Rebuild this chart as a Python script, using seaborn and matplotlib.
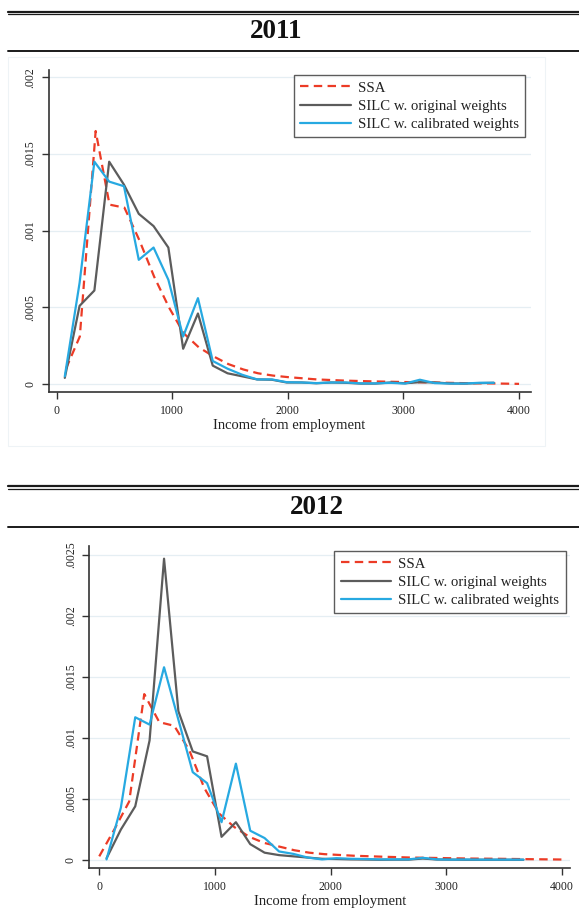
import matplotlib
matplotlib.use("Agg")
import matplotlib.pyplot as plt
from matplotlib.lines import Line2D
from matplotlib.patches import Rectangle
import seaborn as sns
import pandas as pd

# ---------------- data ----------------
series_names = ["SSA", "SILC w. original weights", "SILC w. calibrated weights"]

# 2011
x11_silc = [70, 198, 326, 454, 582, 710, 838, 966, 1094, 1222, 1350, 1478, 1606, 1734,
            1862, 1990, 2118, 2246, 2374, 2502, 2630, 2758, 2886, 3014, 3142, 3270,
            3398, 3526, 3654, 3782]
orig11 = [0.00004, 0.00051, 0.00061, 0.00145, 0.00130, 0.00111, 0.00103, 0.00089,
          0.00023, 0.00046, 0.00012, 0.00007, 0.00005, 0.00003, 0.000028, 0.00001,
          0.00001, 0.000005, 0.00001, 0.000008, 0.000003, 0.000003, 0.00001, 0.000005,
          0.000012, 0.00001, 0.000004, 0.000003, 0.000006, 0.000008]
calib11 = [0.00005, 0.00066, 0.00145, 0.00132, 0.00129, 0.00081, 0.00089, 0.00068,
           0.00031, 0.00056, 0.00015, 0.00010, 0.00006, 0.00003, 0.00003, 0.000012,
           0.00001, 0.000006, 0.00001, 0.00001, 0.000004, 0.000004, 0.000008, 0.000003,
           0.000028, 0.000006, 0.000003, 0.000003, 0.000008, 0.000008]
x11_ssa = [80, 200, 337, 457, 586, 714, 843, 971, 1100, 1228, 1357, 1485, 1614, 1742,
           1871, 2000, 2250, 2500, 2750, 3000, 3250, 3500, 3750, 4000]
ssa11 = [0.00010, 0.00031, 0.00165, 0.00117, 0.00115, 0.00094, 0.00070, 0.00050,
         0.00033, 0.00024, 0.00018, 0.00013, 0.000095, 0.00007, 0.000055, 0.000045,
         0.00003, 0.000022, 0.000017, 0.000013, 0.00001, 0.000006, 0.000004, 0.000001]

# 2012
x12_silc = [63, 187, 311, 435, 560, 684, 808, 932, 1057, 1181, 1305, 1429, 1554, 1678,
            1802, 1926, 2051, 2175, 2299, 2423, 2548, 2672, 2796, 2920, 3045, 3169,
            3293, 3417, 3542, 3666]
orig12 = [0.000014, 0.00025, 0.00044, 0.00098, 0.00247, 0.00122, 0.00089, 0.00085,
          0.00019, 0.00031, 0.00013, 0.00006, 0.00004, 0.00003, 0.00002, 0.00001,
          0.000008, 0.000005, 0.000004, 0.000002, 0.000003, 0.000003, 0.000012,
          0.000004, 0.000003, 0.000002, 0.000002, 0.000002, 0.000002, 0.000002]
calib12 = [0.000005, 0.00043, 0.00117, 0.00111, 0.00158, 0.00115, 0.00072, 0.00063,
           0.00031, 0.00079, 0.00024, 0.00018, 0.00007, 0.00005, 0.00002, 0.000005,
           0.000015, 0.00001, 0.000008, 0.000005, 0.000005, 0.000005, 0.000018,
           0.000005, 0.000003, 0.000004, 0.000003, 0.000003, 0.000003, 0.000003]
x12_ssa = [0, 130, 259, 389, 519, 648, 778, 908, 1037, 1167, 1297, 1426, 1556, 1686,
           1815, 1945, 2200, 2450, 2700, 2950, 3200, 3450, 3700, 4000]
ssa12 = [0.00003, 0.00025, 0.00048, 0.00136, 0.00113, 0.00110, 0.00090, 0.00059,
         0.00038, 0.00027, 0.00019, 0.00014, 0.00011, 0.00008, 0.00006, 0.000048,
         0.000035, 0.000027, 0.00002, 0.000016, 0.000012, 0.00001, 0.000007, 0.000004]

x_ticks = [0, 1000, 2000, 3000, 4000]
y_ticks11 = [0, 0.0005, 0.001, 0.0015, 0.002]
y_ticks12 = [0, 0.0005, 0.001, 0.0015, 0.002, 0.0025]
y_labels11 = ["0", ".0005", ".001", ".0015", ".002"]
y_labels12 = ["0", ".0005", ".001", ".0015", ".002", ".0025"]

# ---------------- style ----------------
sns.set_theme(style="white")
plt.rcParams["font.family"] = ["Liberation Serif", "DejaVu Serif"]

RED = "#ec3b26"
GREY = "#5c5c5c"
BLUE = "#27a9e1"
palette = {series_names[0]: RED, series_names[1]: GREY, series_names[2]: BLUE}
dash_map = {series_names[0]: (3.8, 2.4), series_names[1]: "", series_names[2]: ""}

W, H = 579, 919
fig = plt.figure(figsize=(W / 100, H / 100), dpi=100)


def fx(px):
    return px / W


def fy(py):
    return 1 - py / H


def long_frame(xs_ssa, ssa, xs_silc, orig, calib):
    parts = [
        pd.DataFrame({"income": xs_ssa, "density": ssa, "series": series_names[0]}),
        pd.DataFrame({"income": xs_silc, "density": orig, "series": series_names[1]}),
        pd.DataFrame({"income": xs_silc, "density": calib, "series": series_names[2]}),
    ]
    return pd.concat(parts, ignore_index=True)


def header(title, y_top, y_bottom, cx, cy, x0=8):
    fig.add_artist(Line2D([fx(x0), 1], [fy(y_top), fy(y_top)], color="#1a1a1a", lw=1.6))
    fig.add_artist(Line2D([fx(x0), 1], [fy(y_top + 2.8), fy(y_top + 2.8)], color="#1a1a1a", lw=0.9))
    fig.add_artist(Line2D([fx(x0), 1], [fy(y_bottom), fy(y_bottom)], color="#1a1a1a", lw=1.4))
    fig.text(fx(cx), fy(cy), title, ha="center", va="center", fontsize=19.5,
             fontweight="bold", color="#111111")


def panel(rect_px, df, xlim, ylim, yticks, ylabels, legend_anchor):
    l, t, r, b = rect_px
    ax = fig.add_axes([fx(l), fy(b), (r - l) / W, (b - t) / H])
    ax.set_facecolor("none")
    for yv in yticks:
        ax.axhline(yv, color="#e5eef3", lw=0.9, zorder=0)
    sns.lineplot(data=df, x="income", y="density", hue="series", style="series",
                 palette=palette, dashes=dash_map, estimator=None, sort=False,
                 linewidth=1.6, ax=ax, legend=False)
    ax.set_xlim(*xlim)
    ax.set_ylim(*ylim)
    ax.set_xticks(x_ticks)
    ax.set_xticklabels([str(v) for v in x_ticks])
    ax.set_yticks(yticks)
    ax.set_yticklabels(ylabels, rotation=90, va="center")
    ax.tick_params(axis="both", direction="out", length=5, width=1.0, color="#333333",
                   labelsize=8.5, labelcolor="#222222")
    ax.tick_params(axis="x", bottom=True, pad=4.5)
    ax.tick_params(axis="y", left=True, pad=4)
    for side in ["top", "right"]:
        ax.spines[side].set_visible(False)
    for side in ["left", "bottom"]:
        ax.spines[side].set_color("#333333")
        ax.spines[side].set_linewidth(1.2)
    ax.set_xlabel("Income from employment", fontsize=10.5, color="#222222", labelpad=0.5)
    ax.set_ylabel("")
    handles = [
        Line2D([], [], color=RED, lw=1.6, linestyle=(0, (3.8, 2.4))),
        Line2D([], [], color=GREY, lw=1.6),
        Line2D([], [], color=BLUE, lw=1.6),
    ]
    leg = ax.legend(handles, series_names, loc="upper right", bbox_to_anchor=legend_anchor,
                    borderaxespad=0, fontsize=10.6, frameon=True, fancybox=False,
                    handlelength=3.4, handletextpad=0.5, labelspacing=0.32,
                    borderpad=0.45)
    leg.get_frame().set_edgecolor("#333333")
    leg.get_frame().set_linewidth(1.0)
    for txt in leg.get_texts():
        txt.set_color("#222222")
    return ax


# faint panel box behind the 2011 chart
fig.add_artist(Rectangle((fx(8), fy(446)), fx(545) - fx(8), fy(57) - fy(446),
                         facecolor="white", edgecolor="#eef3f6", lw=0.8, zorder=-1))

# 2011 panel
header("2011", 11.5, 51, 276, 31)
df11 = long_frame(x11_ssa, ssa11, x11_silc, orig11, calib11)
panel((48.5, 70, 530.6, 392.3), df11, (-71, 4100), (-0.000054, 0.002048),
      y_ticks11, y_labels11, (0.9894, 0.9854))

# 2012 panel
header("2012", 486, 526.7, 317, 507)
df12 = long_frame(x12_ssa, ssa12, x12_silc, orig12, calib12)
panel((89.3, 546, 570.5, 868.3), df12, (-86, 4073), (-0.000068, 0.002574),
      y_ticks12, y_labels12, (0.990, 0.9854))

fig.savefig("out.png", dpi=100, facecolor="white")
